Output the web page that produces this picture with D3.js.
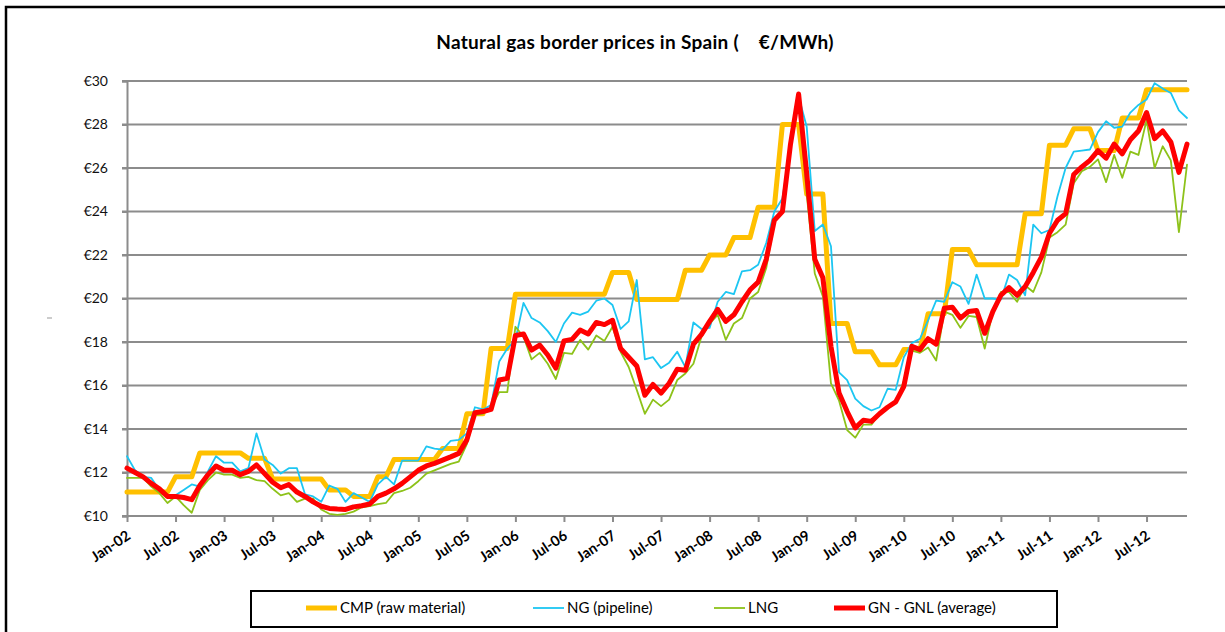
<!DOCTYPE html>
<html>
<head>
<meta charset="utf-8">
<script src="https://cdnjs.cloudflare.com/ajax/libs/d3/7.8.5/d3.min.js"></script>
<style>
  body { margin: 0; background: #fff; }
  svg { display: block; font-family: Lato, "Open Sans", sans-serif; }
</style>
</head>
<body>
<script>
// months Jan-02 .. Dec-12, one value per month (index 0 = Jan-02)
var tickMonths = [0, 6, 12, 18, 24, 30, 36, 42, 48, 54, 60, 66, 72, 78, 84, 90, 96, 102, 108, 114, 120, 126];
var tickLabels = ["Jan-02","Jul-02","Jan-03","Jul-03","Jan-04","Jul-04","Jan-05","Jul-05","Jan-06","Jul-06","Jan-07",
                  "Jul-07","Jan-08","Jul-08","Jan-09","Jul-09","Jan-10","Jul-10","Jan-11","Jul-11","Jan-12","Jul-12"];
var yTicks = [10, 12, 14, 16, 18, 20, 22, 24, 26, 28, 30];

var cmp = [
  11.1,11.1,11.1,11.1,11.1,11.1,11.8,11.8,11.8,12.9,12.9,12.9,
  12.9,12.9,12.9,12.65,12.65,12.65,11.7,11.7,11.7,11.7,11.7,11.7,
  11.7,11.2,11.2,11.2,10.9,10.9,10.9,11.8,11.8,12.6,12.6,12.6,
  12.6,12.6,12.6,13.1,13.1,13.1,14.7,14.7,14.7,17.7,17.7,17.7,
  20.2,20.2,20.2,20.2,20.2,20.2,20.2,20.2,20.2,20.2,20.2,20.2,
  21.2,21.2,21.2,19.95,19.95,19.95,19.95,19.95,19.95,21.3,21.3,21.3,
  22.0,22.0,22.0,22.8,22.8,22.8,24.2,24.2,24.2,28.0,28.0,28.0,
  24.8,24.8,24.8,18.85,18.85,18.85,17.55,17.55,17.55,16.95,16.95,16.95,
  17.65,17.65,17.65,19.3,19.3,19.3,22.25,22.25,22.25,21.55,21.55,21.55,
  21.55,21.55,21.55,23.9,23.9,23.9,27.05,27.05,27.05,27.8,27.8,27.8,
  26.8,26.8,26.8,28.3,28.3,28.3,29.6,29.6,29.6,29.6,29.6,29.6
];
var ng = [
  12.75,12.1,11.8,11.75,11.2,10.9,10.95,11.2,11.45,11.35,12.05,12.75,
  12.45,12.45,12.05,12.2,13.8,12.6,12.35,11.95,12.2,12.2,11.0,10.9,
  10.65,11.4,11.25,10.65,11.05,10.85,10.65,11.45,11.8,11.45,12.55,12.55,
  12.55,13.2,13.1,13.05,13.45,13.5,13.8,15.0,14.9,15.1,17.1,17.7,
  18.1,19.8,19.1,18.9,18.5,18.0,18.85,19.35,19.25,19.4,19.9,20.0,
  19.7,18.6,18.95,20.85,17.2,17.3,16.8,17.05,17.55,16.85,18.9,18.6,
  18.65,19.85,20.3,20.2,21.25,21.3,21.55,22.55,24.0,24.6,27.0,29.3,
  27.9,23.1,23.4,22.4,16.6,16.25,15.4,15.05,14.85,15.0,15.85,15.8,
  17.3,17.95,18.15,19.0,19.9,19.85,20.75,20.55,19.75,21.1,20.0,20.0,
  19.95,21.1,20.85,20.15,23.4,23.0,23.15,24.7,26.0,26.75,26.8,26.85,
  27.65,28.15,27.85,27.9,28.55,28.9,29.15,29.9,29.65,29.45,28.65,28.3
];
var lng = [
  11.75,11.75,11.75,11.35,11.05,10.6,10.9,10.5,10.15,11.2,11.65,12.0,
  11.9,11.9,11.75,11.8,11.65,11.6,11.25,10.95,11.05,10.65,10.8,10.8,
  10.3,10.1,10.05,10.1,10.2,10.4,10.45,10.55,10.6,11.05,11.15,11.3,
  11.6,11.95,12.1,12.25,12.4,12.5,13.3,14.65,14.7,15.0,15.7,15.7,
  18.7,18.25,17.2,17.5,17.0,16.3,17.5,17.45,18.1,17.65,18.3,18.05,
  18.7,17.55,16.85,15.8,14.7,15.35,15.05,15.35,16.25,16.55,17.0,18.25,
  18.85,19.25,18.1,18.85,19.1,20.0,20.3,21.4,23.5,24.05,27.0,29.35,
  24.8,21.15,20.1,16.1,15.3,13.95,13.6,14.2,14.2,14.7,14.95,15.2,
  16.2,17.6,17.5,17.75,17.15,19.4,19.25,18.65,19.2,19.15,17.7,19.4,
  20.3,20.3,19.85,20.6,20.3,21.2,22.8,23.05,23.4,25.3,25.85,26.05,
  26.4,25.35,26.6,25.55,26.75,26.6,28.2,26.0,27.0,26.35,23.05,26.15
];
var avg = [
  12.2,12.0,11.8,11.5,11.25,10.9,10.9,10.85,10.75,11.4,11.9,12.3,
  12.1,12.1,11.9,12.05,12.35,11.95,11.55,11.3,11.45,11.1,10.9,10.65,
  10.45,10.35,10.32,10.3,10.42,10.47,10.55,10.9,11.05,11.25,11.5,11.8,
  12.1,12.3,12.42,12.57,12.72,12.88,13.5,14.75,14.8,14.9,16.25,16.33,
  18.3,18.37,17.63,17.86,17.4,16.8,18.05,18.12,18.55,18.37,18.9,18.8,
  19.0,17.7,17.3,16.9,15.55,16.05,15.65,16.1,16.75,16.7,17.9,18.35,
  18.95,19.5,18.95,19.25,19.85,20.4,20.75,21.8,23.6,24.0,27.1,29.4,
  25.75,21.8,20.95,17.8,15.65,14.8,14.05,14.4,14.35,14.7,15.0,15.25,
  15.95,17.8,17.65,18.15,17.9,19.55,19.6,19.1,19.4,19.45,18.4,19.4,
  20.15,20.5,20.15,20.55,21.2,21.9,23.0,23.6,23.9,25.7,26.05,26.35,
  26.8,26.45,27.1,26.65,27.3,27.7,28.55,27.35,27.7,27.2,25.8,27.1
];

var series = [
  {name: "CMP (raw material)", values: cmp, color: "#FFC000", width: 5},
  {name: "NG (pipeline)", values: ng, color: "#1CC6F2", width: 1.8},
  {name: "LNG", values: lng, color: "#8DC21A", width: 1.8},
  {name: "GN - GNL (average)", values: avg, color: "#FF0000", width: 5}
];

var width = 1225, height = 632;
var svg = d3.select("body").append("svg")
    .attr("width", width)
    .attr("height", height);

// outer frame
svg.append("rect")
    .attr("x", 6).attr("y", 7)
    .attr("width", 1240).attr("height", 640)
    .attr("fill", "none")
    .attr("stroke", "#000")
    .attr("stroke-width", 2.5);

svg.append("text")
    .attr("x", 635).attr("y", 49)
    .attr("text-anchor", "middle")
    .attr("font-size", "19px")
    .attr("font-weight", "bold")
    .attr("letter-spacing", "0.3px")
    .attr("fill", "#000")
    .text("Natural gas border prices in Spain (\u00a0\u00a0\u00a0\u00a0\u20ac/MWh)");

var x = d3.scaleLinear().domain([0, cmp.length - 1]).range([127, 1187]);
var y = d3.scaleLinear().domain([10, 30]).range([516, 81]);

// gridlines
svg.append("g").selectAll("line")
    .data(yTicks)
    .enter().append("line")
    .attr("x1", 122).attr("x2", 1187)
    .attr("y1", function(d) { return y(d); })
    .attr("y2", function(d) { return y(d); })
    .attr("stroke", "#8C8C8C")
    .attr("stroke-width", 2);

var yAxis = svg.append("g")
    .attr("transform", "translate(127,0)")
    .call(d3.axisLeft(y).tickValues(yTicks).tickSize(5).tickPadding(14)
      .tickFormat(function(d) { return "\u20ac" + d; }));
yAxis.select(".domain").attr("stroke", "#8C8C8C").attr("stroke-width", 2);
yAxis.selectAll(".tick line").attr("stroke", "#8C8C8C").attr("stroke-width", 2);
yAxis.selectAll("text")
    .attr("font-size", "14px")
    .attr("font-family", "Lato, sans-serif")
    .attr("fill", "#111");

var xAxis = svg.append("g")
    .attr("transform", "translate(0,516)")
    .call(d3.axisBottom(x).tickValues(tickMonths).tickSize(6)
      .tickFormat(function(d, i) { return tickLabels[i]; }));
xAxis.select(".domain").remove();
xAxis.selectAll(".tick line").attr("stroke", "#8C8C8C").attr("stroke-width", 2);
xAxis.selectAll("text")
    .attr("font-size", "14.5px")
    .attr("font-weight", "bold")
    .attr("font-family", "Lato, sans-serif")
    .attr("fill", "#000")
    .attr("text-anchor", "end")
    .attr("y", 0)
    .attr("dy", 0)
    .attr("transform", "translate(4,22) rotate(-34)");

// little stray mark left of the axis
svg.append("line")
    .attr("x1", 47).attr("x2", 52)
    .attr("y1", 318).attr("y2", 318)
    .attr("stroke", "#999").attr("stroke-width", 1);

var line = d3.line()
    .x(function(d, i) { return x(i); })
    .y(function(d) { return y(d); });

svg.append("g").selectAll("path")
    .data(series)
    .enter().append("path")
    .attr("d", function(d) { return line(d.values); })
    .attr("fill", "none")
    .attr("stroke", function(d) { return d.color; })
    .attr("stroke-width", function(d) { return d.width; })
    .attr("stroke-linejoin", "round")
    .attr("stroke-linecap", "round");

// legend
var legend = svg.append("g");
legend.append("rect")
    .attr("x", 251).attr("y", 591)
    .attr("width", 806).attr("height", 36)
    .attr("fill", "#fff")
    .attr("stroke", "#000")
    .attr("stroke-width", 2);

var legendX = [306, 533, 714, 834];
var item = legend.selectAll(".item")
    .data(series)
    .enter().append("g")
    .attr("class", "item")
    .attr("transform", function(d, i) { return "translate(" + legendX[i] + ",608)"; });
item.append("line")
    .attr("x1", 0).attr("x2", 31)
    .attr("stroke", function(d) { return d.color; })
    .attr("stroke-width", function(d) { return d.width; });
item.append("text")
    .attr("x", 34).attr("dy", "0.35em")
    .attr("font-size", "15px")
    .attr("fill", "#000")
    .text(function(d) { return d.name; });
</script>
</body>
</html>
